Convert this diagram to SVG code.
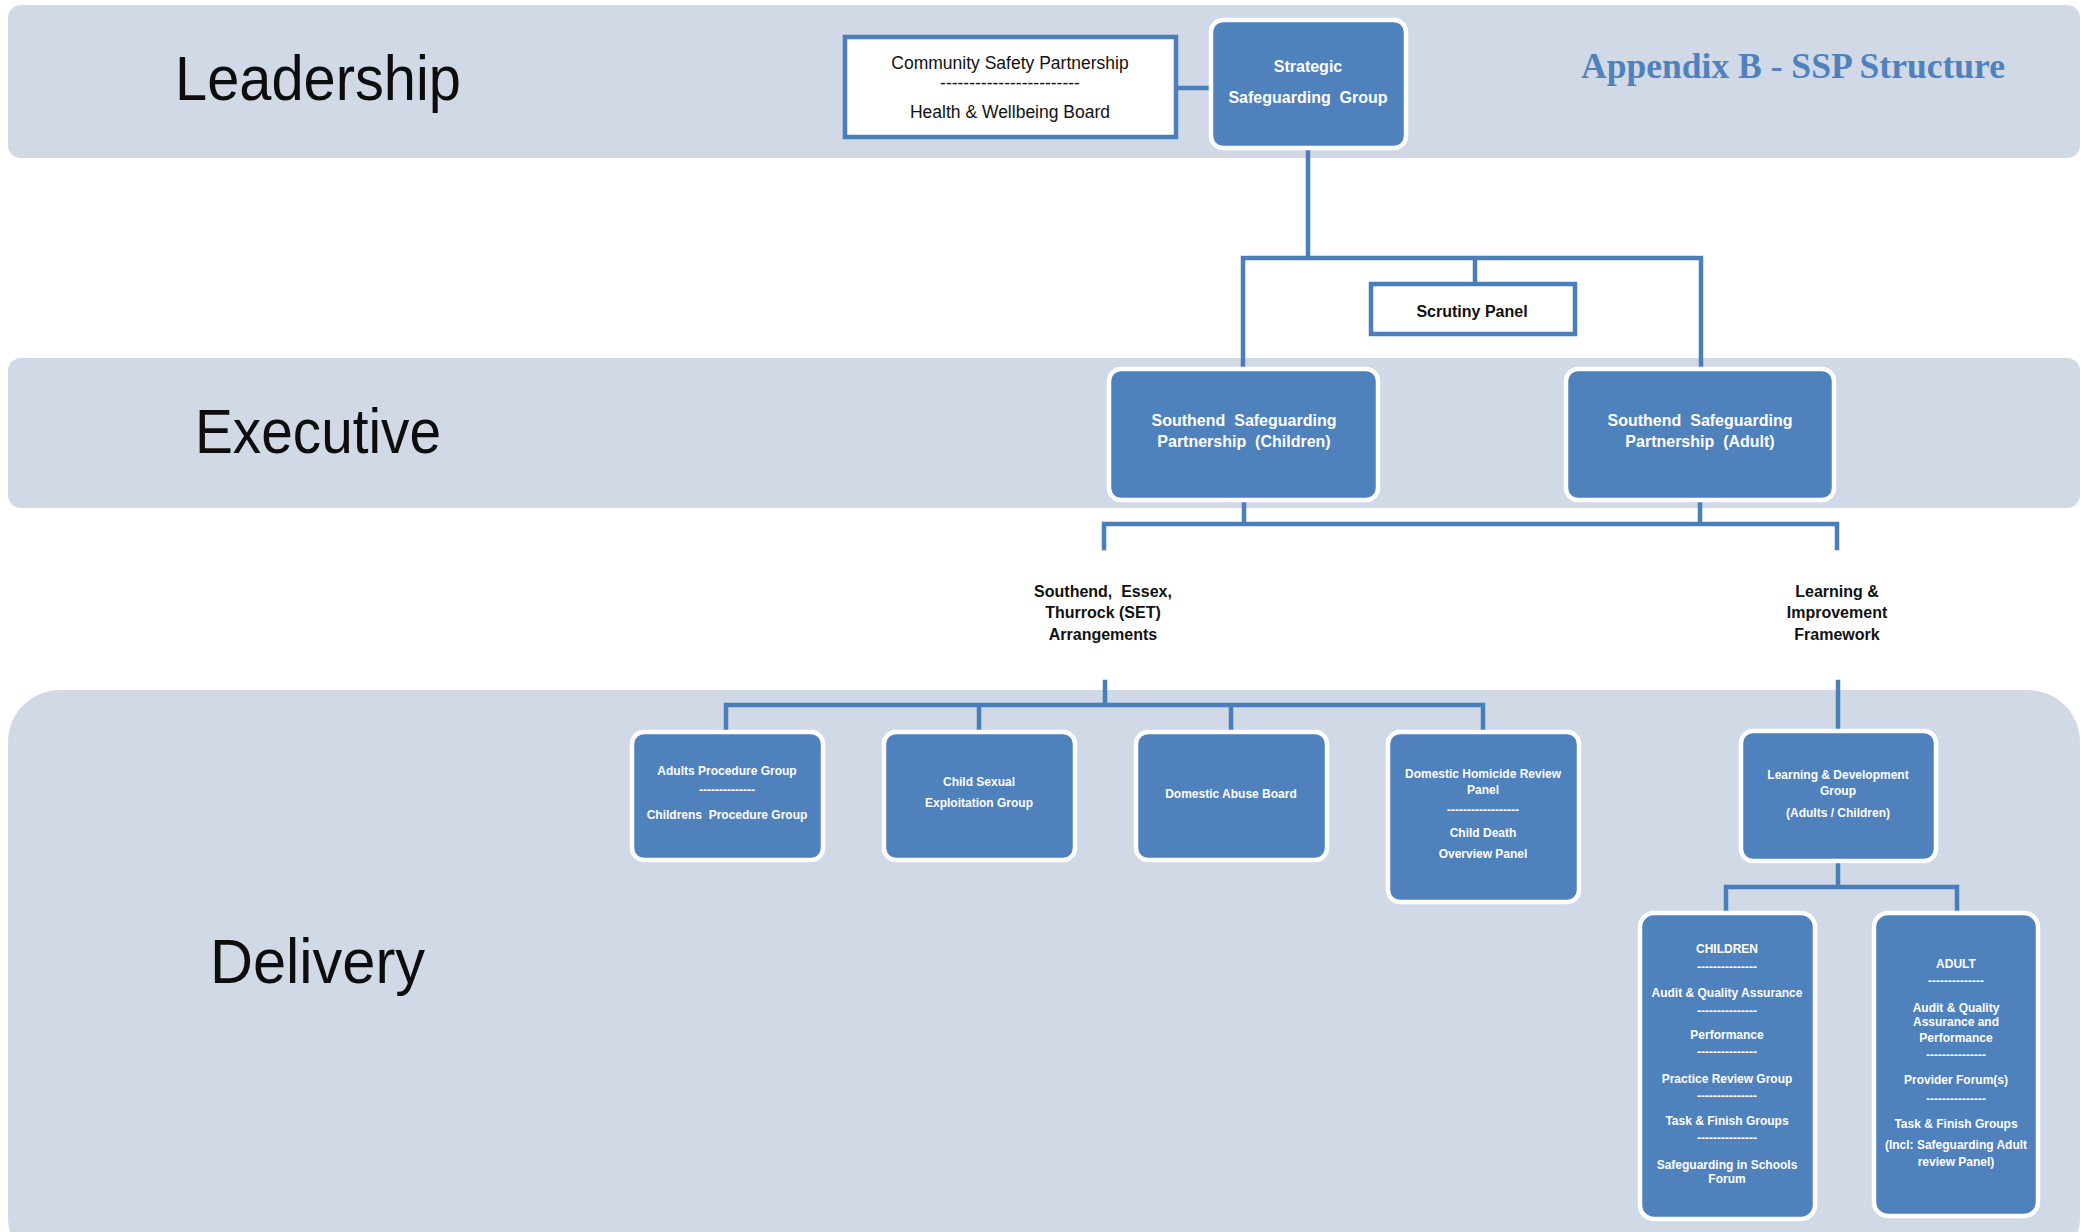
<svg xmlns="http://www.w3.org/2000/svg" width="2082" height="1232" viewBox="0 0 2082 1232">
<style>
.band{fill:#d1d9e7}
.tier{font-family:"Liberation Sans",Arial,sans-serif;font-size:63px;fill:#0d0d0d}
.title{font-family:"Liberation Serif","Times New Roman",serif;font-weight:bold;font-size:35px;fill:#4f81bd}
.wbox{fill:#ffffff;stroke:#4a7ebb;stroke-width:4.5}
.bbox{fill:#4f81bd;stroke:#ffffff;stroke-width:4.5}
.conn{fill:none;stroke:#4a7ebb;stroke-width:4.5;stroke-linecap:square}
.tk{font-family:"Liberation Sans",Arial,sans-serif;fill:#111;text-anchor:middle;white-space:pre}
.tw{font-family:"Liberation Sans",Arial,sans-serif;fill:#ffffff;text-anchor:middle;font-weight:bold;white-space:pre}
.big{font-size:16px}
.sm{font-size:12px}
.lbl{font-family:"Liberation Sans",Arial,sans-serif;fill:#111;text-anchor:middle;font-weight:bold;font-size:16px;white-space:pre}
</style>
<rect width="2082" height="1232" fill="#ffffff"/>
<g id="bands">
<rect class="band" x="8" y="5" width="2072" height="153" rx="13"/>
<rect class="band" x="8" y="358" width="2072" height="150" rx="13"/>
<rect class="band" x="8" y="690" width="2072" height="580" rx="52"/>
<text class="tier" x="175" y="100" textLength="286" lengthAdjust="spacingAndGlyphs">Leadership</text>
<text class="tier" x="195" y="453" textLength="246" lengthAdjust="spacingAndGlyphs">Executive</text>
<text class="tier" x="210" y="983" textLength="215" lengthAdjust="spacingAndGlyphs">Delivery</text>
<text class="title" x="1581" y="78" textLength="424" lengthAdjust="spacingAndGlyphs">Appendix B - SSP Structure</text>
</g>
<g id="connectors">
<path class="conn" d="M1176 88 H1210"/>
<path class="conn" d="M1308 148 V258 M1243 258 H1701 M1243 258 V368 M1701 258 V368 M1475 258 V283"/>
<path class="conn" d="M1244 500 V524 M1700 500 V524 M1104 524 H1837 M1104 524 V548 M1837 524 V548"/>
<path class="conn" d="M1105 682 V705 M726 705 H1483 M726 705 V732 M979 705 V732 M1231 705 V732 M1483 705 V732"/>
<path class="conn" d="M1838 682 V730"/>
<path class="conn" d="M1838 862 V887 M1726 887 H1957 M1726 887 V913 M1957 887 V913"/>
</g>
<g id="csp">
<rect class="wbox" x="845" y="37" width="331" height="100"/>
<text class="tk" x="1010" y="69" font-size="17.5">Community Safety Partnership</text>
<text class="tk" x="1010" y="89" font-size="17.5">------------------------</text>
<text class="tk" x="1010" y="118" font-size="17.5">Health &amp; Wellbeing Board</text>
</g>
<g id="ssg">
<rect class="bbox" x="1211" y="20" width="195" height="128" rx="12"/>
<text class="tw big" x="1308" y="72">Strategic</text>
<text class="tw big" x="1308" y="103">Safeguarding  Group</text>
</g>
<g id="scrutiny">
<rect class="wbox" x="1371" y="284" width="204" height="50"/>
<text class="tk" x="1472" y="317" font-size="16" font-weight="bold">Scrutiny Panel</text>
</g>
<g id="sspc">
<rect class="bbox" x="1109" y="369" width="269" height="131" rx="12"/>
<text class="tw big" x="1244" y="426">Southend  Safeguarding</text>
<text class="tw big" x="1244" y="447">Partnership  (Children)</text>
</g>
<g id="sspa">
<rect class="bbox" x="1566" y="369" width="268" height="131" rx="12"/>
<text class="tw big" x="1700" y="426">Southend  Safeguarding</text>
<text class="tw big" x="1700" y="447">Partnership  (Adult)</text>
</g>
<g id="set">
<text class="lbl" x="1103" y="597">Southend,  Essex,</text>
<text class="lbl" x="1103" y="618">Thurrock (SET)</text>
<text class="lbl" x="1103" y="640">Arrangements</text>
</g>
<g id="lif">
<text class="lbl" x="1837" y="597">Learning &amp;</text>
<text class="lbl" x="1837" y="618">Improvement</text>
<text class="lbl" x="1837" y="640">Framework</text>
</g>
<g id="apg">
<rect class="bbox" x="632" y="732" width="191" height="128" rx="12"/>
<text class="tw sm" x="727" y="775">Adults Procedure Group</text>
<text class="tw sm" x="727" y="794">--------------</text>
<text class="tw sm" x="727" y="819">Childrens  Procedure Group</text>
</g>
<g id="cse">
<rect class="bbox" x="884" y="732" width="191" height="128" rx="12"/>
<text class="tw sm" x="979" y="786">Child Sexual</text>
<text class="tw sm" x="979" y="807">Exploitation Group</text>
</g>
<g id="dab">
<rect class="bbox" x="1136" y="732" width="191" height="128" rx="12"/>
<text class="tw sm" x="1231" y="798">Domestic Abuse Board</text>
</g>
<g id="dhr">
<rect class="bbox" x="1388" y="732" width="191" height="170" rx="12"/>
<text class="tw sm" x="1483" y="778">Domestic Homicide Review</text>
<text class="tw sm" x="1483" y="794">Panel</text>
<text class="tw sm" x="1483" y="814">------------------</text>
<text class="tw sm" x="1483" y="837">Child Death</text>
<text class="tw sm" x="1483" y="858">Overview Panel</text>
</g>
<g id="ld">
<rect class="bbox" x="1741" y="731" width="195" height="130" rx="12"/>
<text class="tw sm" x="1838" y="779">Learning &amp; Development</text>
<text class="tw sm" x="1838" y="795">Group</text>
<text class="tw sm" x="1838" y="817">(Adults / Children)</text>
</g>
<g id="children">
<rect class="bbox" x="1640" y="913" width="175" height="306" rx="14"/>
<text class="tw sm" x="1727" y="953">CHILDREN</text>
<text class="tw sm" x="1727" y="971">---------------</text>
<text class="tw sm" x="1727" y="997">Audit &amp; Quality Assurance</text>
<text class="tw sm" x="1727" y="1015">---------------</text>
<text class="tw sm" x="1727" y="1039">Performance</text>
<text class="tw sm" x="1727" y="1056">---------------</text>
<text class="tw sm" x="1727" y="1083">Practice Review Group</text>
<text class="tw sm" x="1727" y="1100">---------------</text>
<text class="tw sm" x="1727" y="1125">Task &amp; Finish Groups</text>
<text class="tw sm" x="1727" y="1142">---------------</text>
<text class="tw sm" x="1727" y="1169">Safeguarding in Schools</text>
<text class="tw sm" x="1727" y="1183">Forum</text>
</g>
<g id="adult">
<rect class="bbox" x="1874" y="913" width="164" height="303" rx="14"/>
<text class="tw sm" x="1956" y="968">ADULT</text>
<text class="tw sm" x="1956" y="985">--------------</text>
<text class="tw sm" x="1956" y="1012">Audit &amp; Quality</text>
<text class="tw sm" x="1956" y="1026">Assurance and</text>
<text class="tw sm" x="1956" y="1042">Performance</text>
<text class="tw sm" x="1956" y="1059">---------------</text>
<text class="tw sm" x="1956" y="1084">Provider Forum(s)</text>
<text class="tw sm" x="1956" y="1103">---------------</text>
<text class="tw sm" x="1956" y="1128">Task &amp; Finish Groups</text>
<text class="tw sm" x="1956" y="1149">(Incl: Safeguarding Adult</text>
<text class="tw sm" x="1956" y="1166">review Panel)</text>
</g>
</svg>
